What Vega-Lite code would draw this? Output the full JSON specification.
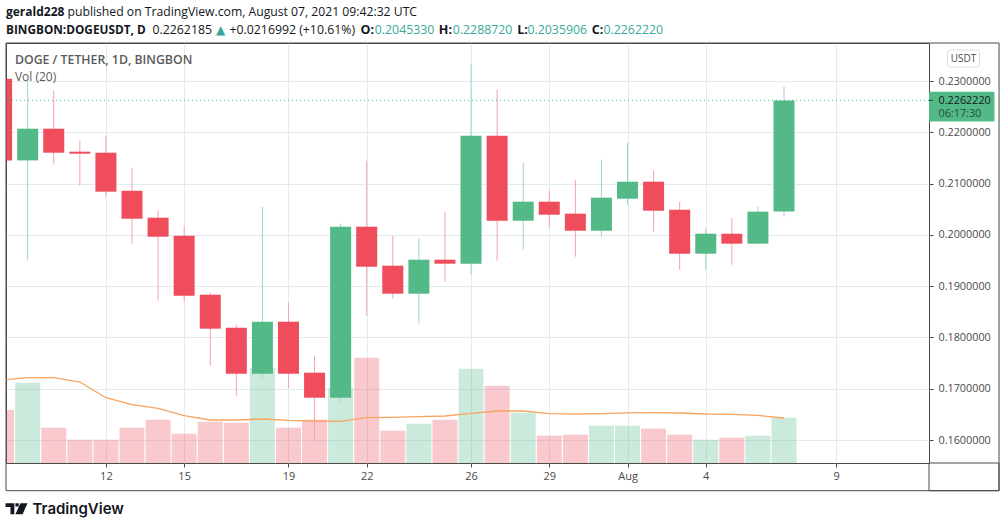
{
"$schema":"https://vega.github.io/schema/vega-lite/v6.json",
"width":923,"height":420,
"autosize":{"type":"none"},
"padding":{"left":6,"top":43,"right":77,"bottom":65},
"background":"white",
"config":{"view":{"stroke":"#4a4a4a","strokeWidth":1},"axis":{"title":null},"scale":{"continuousPadding":0}},
"datasets":{"days":[
{"date":"2021-07-08","open":0.23045,"high":0.23045,"low":0.21452,"close":0.21452,"direction":"down","volume":53,"volumeMa":83},
{"date":"2021-07-09","open":0.21452,"high":0.23025,"low":0.19502,"close":0.2207,"direction":"up","volume":80.3,"volumeMa":85.3},
{"date":"2021-07-10","open":0.2207,"high":0.22811,"low":0.21368,"close":0.21602,"direction":"down","volume":35.3,"volumeMa":85.3},
{"date":"2021-07-11","open":0.21622,"high":0.21836,"low":0.20959,"close":0.21583,"direction":"down","volume":23.3,"volumeMa":81},
{"date":"2021-07-12","open":0.21602,"high":0.21934,"low":0.20744,"close":0.20842,"direction":"down","volume":23.3,"volumeMa":65.3},
{"date":"2021-07-13","open":0.20861,"high":0.2131,"low":0.19828,"close":0.20315,"direction":"down","volume":35.3,"volumeMa":58.3},
{"date":"2021-07-14","open":0.20335,"high":0.20471,"low":0.18717,"close":0.19964,"direction":"down","volume":43.3,"volumeMa":54.6},
{"date":"2021-07-15","open":0.19984,"high":0.20179,"low":0.18697,"close":0.18814,"direction":"down","volume":29.3,"volumeMa":47.3},
{"date":"2021-07-16","open":0.18833,"high":0.18873,"low":0.17449,"close":0.18171,"direction":"down","volume":41.3,"volumeMa":43},
{"date":"2021-07-17","open":0.1819,"high":0.18249,"low":0.16864,"close":0.17293,"direction":"down","volume":40.3,"volumeMa":43},
{"date":"2021-07-18","open":0.17293,"high":0.20549,"low":0.17196,"close":0.18307,"direction":"up","volume":95.3,"volumeMa":44},
{"date":"2021-07-19","open":0.18307,"high":0.18678,"low":0.1702,"close":0.17293,"direction":"down","volume":35.3,"volumeMa":42.6},
{"date":"2021-07-20","open":0.17313,"high":0.17644,"low":0.15967,"close":0.16825,"direction":"down","volume":43.3,"volumeMa":42},
{"date":"2021-07-21","open":0.16825,"high":0.20218,"low":0.16728,"close":0.20159,"direction":"up","volume":75.3,"volumeMa":41.6},
{"date":"2021-07-22","open":0.20159,"high":0.21446,"low":0.18424,"close":0.19379,"direction":"down","volume":105.3,"volumeMa":45.3},
{"date":"2021-07-23","open":0.19399,"high":0.19984,"low":0.18756,"close":0.18853,"direction":"down","volume":32.3,"volumeMa":45.6},
{"date":"2021-07-24","open":0.18853,"high":0.19925,"low":0.18268,"close":0.19516,"direction":"up","volume":39.3,"volumeMa":46.3},
{"date":"2021-07-25","open":0.19516,"high":0.20452,"low":0.19087,"close":0.19438,"direction":"down","volume":43.3,"volumeMa":47},
{"date":"2021-07-26","open":0.19438,"high":0.23324,"low":0.19223,"close":0.21934,"direction":"up","volume":94.3,"volumeMa":49.6},
{"date":"2021-07-27","open":0.21934,"high":0.2283,"low":0.19496,"close":0.20276,"direction":"down","volume":77.3,"volumeMa":52},
{"date":"2021-07-28","open":0.20276,"high":0.21407,"low":0.19711,"close":0.20647,"direction":"up","volume":50.3,"volumeMa":52},
{"date":"2021-07-29","open":0.20647,"high":0.20861,"low":0.2014,"close":0.20393,"direction":"down","volume":27.3,"volumeMa":49.3},
{"date":"2021-07-30","open":0.20413,"high":0.21076,"low":0.19574,"close":0.20081,"direction":"down","volume":28.3,"volumeMa":49},
{"date":"2021-07-31","open":0.20081,"high":0.21466,"low":0.19964,"close":0.20725,"direction":"up","volume":37.3,"volumeMa":49.3},
{"date":"2021-08-01","open":0.20705,"high":0.21797,"low":0.20588,"close":0.21037,"direction":"up","volume":37.3,"volumeMa":50.1},
{"date":"2021-08-02","open":0.21037,"high":0.21251,"low":0.20062,"close":0.20471,"direction":"down","volume":34.3,"volumeMa":50.3},
{"date":"2021-08-03","open":0.20491,"high":0.20647,"low":0.19321,"close":0.19633,"direction":"down","volume":28.3,"volumeMa":50},
{"date":"2021-08-04","open":0.19633,"high":0.2012,"low":0.19321,"close":0.20023,"direction":"up","volume":23.3,"volumeMa":49},
{"date":"2021-08-05","open":0.20023,"high":0.20335,"low":0.19418,"close":0.19828,"direction":"down","volume":25.3,"volumeMa":48.6},
{"date":"2021-08-06","open":0.19828,"high":0.20549,"low":0.19828,"close":0.20452,"direction":"up","volume":27.3,"volumeMa":47.6},
{"date":"2021-08-07","open":0.2045330,"high":0.2288720,"low":0.2035906,"close":0.2262220,"direction":"up","volume":45.3,"volumeMa":45}
]},
"resolve":{"scale":{"y":"independent"}},
"layer":[
{"layer":[
{"data":{"name":"days"},"mark":{"type":"bar","size":25,"opacity":0.3,"clip":true},
"encoding":{"x":{"field":"date","type":"temporal","scale":{"type":"utc","nice":false,"domain":["2021-07-08T04:03:00Z","2021-08-12T13:26:00Z"]}},
"y":{"field":"volume","type":"quantitative","scale":{"domain":[0,420]},"axis":null},
"color":{"field":"direction","type":"nominal","scale":{"domain":["up","down"],"range":["#53b987","#ef4d5c"]},"legend":null}}},
{"data":{"name":"days"},"mark":{"type":"line","color":"#f9a45e","strokeWidth":1.3,"clip":true},
"encoding":{"x":{"field":"date","type":"temporal","scale":{"type":"utc","nice":false,"domain":["2021-07-08T04:03:00Z","2021-08-12T13:26:00Z"]}},
"y":{"field":"volumeMa","type":"quantitative","scale":{"domain":[0,420]},"axis":null}}}
]},
{"layer":[
{"data":{"name":"days"},"transform":[{"filter":"datum.direction == 'up'"}],"mark":{"type":"rule","color":"#9fd1cf","strokeWidth":1,"clip":true},
"encoding":{"x":{"field":"date","type":"temporal","scale":{"type":"utc","nice":false,"domain":["2021-07-08T04:03:00Z","2021-08-12T13:26:00Z"]},
"axis":{"title":null,"values":["2021-07-12","2021-07-15","2021-07-19","2021-07-22","2021-07-26","2021-07-29","2021-08-01","2021-08-04","2021-08-09"],"labelExpr":"utcdate(datum.value) == 1 ? 'Aug' : utcFormat(datum.value, '%-d')","grid":true,"gridColor":"#e1ecf2","gridWidth":1,"domain":false,"tickColor":"#4a4a4a","tickSize":4,"labelColor":"#4a4a4a","labelFont":"Open Sans","labelFontSize":11,"labelPadding":3,"labelFlush":false,"labelOverlap":false}},
"y":{"field":"low","type":"quantitative","scale":{"domain":[0.15552,0.23741]},
"axis":{"title":null,"orient":"right","values":[0.16,0.17,0.18,0.19,0.2,0.21,0.22,0.23],"format":".7f","grid":true,"gridColor":"#e1ecf2","gridWidth":1,"domain":false,"tickColor":"#4a4a4a","tickSize":4,"labelColor":"#4a4a4a","labelFont":"Open Sans","labelFontSize":10.8,"labelPadding":5}},
"y2":{"field":"high"}}},
{"data":{"name":"days"},"transform":[{"filter":"datum.direction == 'down'"}],"mark":{"type":"rule","color":"#f7a1ac","strokeWidth":1,"clip":true},
"encoding":{"x":{"field":"date","type":"temporal","scale":{"type":"utc","nice":false,"domain":["2021-07-08T04:03:00Z","2021-08-12T13:26:00Z"]}},
"y":{"field":"low","type":"quantitative","scale":{"domain":[0.15552,0.23741]},"axis":{"orient":"right"}},"y2":{"field":"high"}}},
{"data":{"name":"days"},"mark":{"type":"bar","size":21,"clip":true},
"encoding":{"x":{"field":"date","type":"temporal","scale":{"type":"utc","nice":false,"domain":["2021-07-08T04:03:00Z","2021-08-12T13:26:00Z"]}},
"y":{"field":"open","type":"quantitative","scale":{"domain":[0.15552,0.23741]},"axis":{"orient":"right"}},"y2":{"field":"close"},
"color":{"field":"direction","type":"nominal","scale":{"domain":["up","down"],"range":["#53b987","#ef4d5c"]},"legend":null}}},
{"data":{"values":[{"last":0.226222}]},"mark":{"type":"rule","color":"#3fb58a","strokeWidth":1,"strokeDash":[1,3]},
"encoding":{"y":{"field":"last","type":"quantitative","scale":{"domain":[0.15552,0.23741]},"axis":{"orient":"right"}}}},
{"data":{"values":[{"part":"outer frame"}]},"mark":{"type":"rect","fillOpacity":0,"stroke":"#4a4a4a","strokeWidth":1},
"encoding":{"x":{"datum":{"year":2021,"month":7,"date":8,"hours":4,"minutes":3,"utc":true},"type":"temporal","scale":{"type":"utc","nice":false,"domain":["2021-07-08T04:03:00Z","2021-08-12T13:26:00Z"]}},"x2":{"datum":{"year":2021,"month":8,"date":15,"hours":5,"minutes":53,"utc":true}},
"y":{"datum":0.23741,"type":"quantitative","scale":{"domain":[0.15552,0.23741]},"axis":{"orient":"right"}},"y2":{"datum":0.15012}}},
{"data":{"values":[{"part":"corner"}]},"mark":{"type":"rect","fillOpacity":0,"stroke":"#4a4a4a","strokeWidth":1},
"encoding":{"x":{"datum":{"year":2021,"month":8,"date":12,"hours":13,"minutes":26,"utc":true},"type":"temporal","scale":{"type":"utc","nice":false,"domain":["2021-07-08T04:03:00Z","2021-08-12T13:26:00Z"]}},"x2":{"datum":{"year":2021,"month":8,"date":15,"hours":5,"minutes":53,"utc":true}},
"y":{"datum":0.15552,"type":"quantitative","scale":{"domain":[0.15552,0.23741]},"axis":{"orient":"right"}},"y2":{"datum":0.15012}}},
{"data":{"values":[{"part":"price tag"}]},"mark":{"type":"rect","color":"#53b987","cornerRadius":1},
"encoding":{"x":{"datum":{"year":2021,"month":8,"date":12,"hours":13,"minutes":26,"utc":true},"type":"temporal","scale":{"type":"utc","nice":false,"domain":["2021-07-08T04:03:00Z","2021-08-12T13:26:00Z"]}},"x2":{"datum":{"year":2021,"month":8,"date":15,"hours":1,"minutes":41,"utc":true}},
"y":{"datum":0.22791,"type":"quantitative","scale":{"domain":[0.15552,0.23741]},"axis":{"orient":"right"}},"y2":{"datum":0.22212}}},
{"data":{"values":[{"part":"price tag tick"}]},"mark":{"type":"rule","color":"#1f4f3a","strokeWidth":1},
"encoding":{"x":{"datum":{"year":2021,"month":8,"date":12,"hours":13,"minutes":26,"utc":true},"type":"temporal","scale":{"type":"utc","nice":false,"domain":["2021-07-08T04:03:00Z","2021-08-12T13:26:00Z"]}},"x2":{"datum":{"year":2021,"month":8,"date":12,"hours":16,"minutes":57,"utc":true}},
"y":{"datum":0.226222,"type":"quantitative","scale":{"domain":[0.15552,0.23741]},"axis":{"orient":"right"}}}},
{"data":{"values":[{"part":"usdt button"}]},"mark":{"type":"rect","fill":"white","stroke":"#dcdcdc","strokeWidth":1,"cornerRadius":3},
"encoding":{"x":{"datum":{"year":2021,"month":8,"date":13,"hours":6,"minutes":29,"utc":true},"type":"temporal","scale":{"type":"utc","nice":false,"domain":["2021-07-08T04:03:00Z","2021-08-12T13:26:00Z"]}},"x2":{"datum":{"year":2021,"month":8,"date":14,"hours":11,"minutes":56,"utc":true}},
"y":{"datum":0.23604,"type":"quantitative","scale":{"domain":[0.15552,0.23741]},"axis":{"orient":"right"}},"y2":{"datum":0.23272}}},
{"data":{"values":[{"label":"USDT"}]},"mark":{"type":"text","align":"center","font":"Open Sans","fontSize":10,"color":"#4a4a4a"},
"encoding":{"x":{"datum":{"year":2021,"month":8,"date":13,"hours":21,"minutes":12,"utc":true},"type":"temporal","scale":{"type":"utc","nice":false,"domain":["2021-07-08T04:03:00Z","2021-08-12T13:26:00Z"]}},"y":{"datum":0.23435,"type":"quantitative","scale":{"domain":[0.15552,0.23741]},"axis":{"orient":"right"}},"text":{"field":"label"}}},
{"data":{"values":[{"label":"0.2262220"}]},"mark":{"type":"text","align":"left","font":"Open Sans","fontSize":10.8,"color":"#131722"},
"encoding":{"x":{"datum":{"year":2021,"month":8,"date":12,"hours":22,"minutes":12,"utc":true},"type":"temporal","scale":{"type":"utc","nice":false,"domain":["2021-07-08T04:03:00Z","2021-08-12T13:26:00Z"]}},"y":{"datum":0.22616,"type":"quantitative","scale":{"domain":[0.15552,0.23741]},"axis":{"orient":"right"}},"text":{"field":"label"}}},
{"data":{"values":[{"label":"06:17:30"}]},"mark":{"type":"text","align":"left","font":"Open Sans","fontSize":10.8,"color":"#1f4f3a"},
"encoding":{"x":{"datum":{"year":2021,"month":8,"date":12,"hours":22,"minutes":12,"utc":true},"type":"temporal","scale":{"type":"utc","nice":false,"domain":["2021-07-08T04:03:00Z","2021-08-12T13:26:00Z"]}},"y":{"datum":0.22362,"type":"quantitative","scale":{"domain":[0.15552,0.23741]},"axis":{"orient":"right"}},"text":{"field":"label"}}},
{"data":{"values":[{"label":"DOGE / TETHER, 1D, BINGBON"}]},"mark":{"type":"text","align":"left","font":"Open Sans","fontSize":12.3,"fontWeight":600,"color":"#5a5a5a"},
"encoding":{"x":{"datum":{"year":2021,"month":7,"date":8,"hours":12,"minutes":17,"utc":true},"type":"temporal","scale":{"type":"utc","nice":false,"domain":["2021-07-08T04:03:00Z","2021-08-12T13:26:00Z"]}},"y":{"datum":0.23415,"type":"quantitative","scale":{"domain":[0.15552,0.23741]},"axis":{"orient":"right"}},"text":{"field":"label"}}},
{"data":{"values":[{"label":"Vol (20)"}]},"mark":{"type":"text","align":"left","font":"Open Sans","fontSize":12,"color":"#5a5a5a"},
"encoding":{"x":{"datum":{"year":2021,"month":7,"date":8,"hours":12,"minutes":17,"utc":true},"type":"temporal","scale":{"type":"utc","nice":false,"domain":["2021-07-08T04:03:00Z","2021-08-12T13:26:00Z"]}},"y":{"datum":0.23084,"type":"quantitative","scale":{"domain":[0.15552,0.23741]},"axis":{"orient":"right"}},"text":{"field":"label"}}},
{"data":{"values":[{"label":"gerald228"}]},"mark":{"type":"text","align":"left","font":"Open Sans","fontSize":12,"fontWeight":"bold","color":"#131722"},
"encoding":{"x":{"datum":{"year":2021,"month":7,"date":8,"hours":4,"minutes":3,"utc":true},"type":"temporal","scale":{"type":"utc","nice":false,"domain":["2021-07-08T04:03:00Z","2021-08-12T13:26:00Z"]}},"y":{"datum":0.24351,"type":"quantitative","scale":{"domain":[0.15552,0.23741]},"axis":{"orient":"right"}},"text":{"field":"label"}}},
{"data":{"values":[{"label":"published on TradingView.com, August 07, 2021 09:42:32 UTC"}]},"mark":{"type":"text","align":"left","font":"Open Sans","fontSize":12.2,"color":"#131722"},
"encoding":{"x":{"datum":{"year":2021,"month":7,"date":10,"hours":12,"minutes":40,"utc":true},"type":"temporal","scale":{"type":"utc","nice":false,"domain":["2021-07-08T04:03:00Z","2021-08-12T13:26:00Z"]}},"y":{"datum":0.24351,"type":"quantitative","scale":{"domain":[0.15552,0.23741]},"axis":{"orient":"right"}},"text":{"field":"label"}}},
{"data":{"values":[{"label":"BINGBON:DOGEUSDT, D"}]},"mark":{"type":"text","align":"left","font":"Open Sans","fontSize":11.8,"fontWeight":"bold","color":"#131722"},
"encoding":{"x":{"datum":{"year":2021,"month":7,"date":8,"hours":4,"minutes":3,"utc":true},"type":"temporal","scale":{"type":"utc","nice":false,"domain":["2021-07-08T04:03:00Z","2021-08-12T13:26:00Z"]}},"y":{"datum":0.24,"type":"quantitative","scale":{"domain":[0.15552,0.23741]},"axis":{"orient":"right"}},"text":{"field":"label"}}},
{"data":{"values":[{"label":"0.2262185"}]},"mark":{"type":"text","align":"left","font":"Open Sans","fontSize":12.3,"color":"#131722"},
"encoding":{"x":{"datum":{"year":2021,"month":7,"date":13,"hours":18,"minutes":53,"utc":true},"type":"temporal","scale":{"type":"utc","nice":false,"domain":["2021-07-08T04:03:00Z","2021-08-12T13:26:00Z"]}},"y":{"datum":0.24,"type":"quantitative","scale":{"domain":[0.15552,0.23741]},"axis":{"orient":"right"}},"text":{"field":"label"}}},
{"data":{"values":[{"label":"▲"}]},"mark":{"type":"text","align":"center","font":"DejaVu Sans","fontSize":12,"color":"#37a99a"},
"encoding":{"x":{"datum":{"year":2021,"month":7,"date":16,"hours":9,"minutes":27,"utc":true},"type":"temporal","scale":{"type":"utc","nice":false,"domain":["2021-07-08T04:03:00Z","2021-08-12T13:26:00Z"]}},"y":{"datum":0.24,"type":"quantitative","scale":{"domain":[0.15552,0.23741]},"axis":{"orient":"right"}},"text":{"field":"label"}}},
{"data":{"values":[{"label":"+0.0216992 (+10.61%)"}]},"mark":{"type":"text","align":"left","font":"Open Sans","fontSize":12.3,"color":"#131722"},
"encoding":{"x":{"datum":{"year":2021,"month":7,"date":16,"hours":17,"minutes":44,"utc":true},"type":"temporal","scale":{"type":"utc","nice":false,"domain":["2021-07-08T04:03:00Z","2021-08-12T13:26:00Z"]}},"y":{"datum":0.24,"type":"quantitative","scale":{"domain":[0.15552,0.23741]},"axis":{"orient":"right"}},"text":{"field":"label"}}},
{"data":{"values":[{"label":"O:"}]},"mark":{"type":"text","align":"left","font":"Open Sans","fontSize":12.5,"fontWeight":"bold","color":"#131722"},
"encoding":{"x":{"datum":{"year":2021,"month":7,"date":21,"hours":18,"minutes":17,"utc":true},"type":"temporal","scale":{"type":"utc","nice":false,"domain":["2021-07-08T04:03:00Z","2021-08-12T13:26:00Z"]}},"y":{"datum":0.24,"type":"quantitative","scale":{"domain":[0.15552,0.23741]},"axis":{"orient":"right"}},"text":{"field":"label"}}},
{"data":{"values":[{"label":"0.2045330"}]},"mark":{"type":"text","align":"left","font":"Open Sans","fontSize":12.3,"color":"#37a99a"},
"encoding":{"x":{"datum":{"year":2021,"month":7,"date":22,"hours":7,"minutes":27,"utc":true},"type":"temporal","scale":{"type":"utc","nice":false,"domain":["2021-07-08T04:03:00Z","2021-08-12T13:26:00Z"]}},"y":{"datum":0.24,"type":"quantitative","scale":{"domain":[0.15552,0.23741]},"axis":{"orient":"right"}},"text":{"field":"label"}}},
{"data":{"values":[{"label":"H:"}]},"mark":{"type":"text","align":"left","font":"Open Sans","fontSize":12.5,"fontWeight":"bold","color":"#131722"},
"encoding":{"x":{"datum":{"year":2021,"month":7,"date":24,"hours":18,"minutes":21,"utc":true},"type":"temporal","scale":{"type":"utc","nice":false,"domain":["2021-07-08T04:03:00Z","2021-08-12T13:26:00Z"]}},"y":{"datum":0.24,"type":"quantitative","scale":{"domain":[0.15552,0.23741]},"axis":{"orient":"right"}},"text":{"field":"label"}}},
{"data":{"values":[{"label":"0.2288720"}]},"mark":{"type":"text","align":"left","font":"Open Sans","fontSize":12.3,"color":"#37a99a"},
"encoding":{"x":{"datum":{"year":2021,"month":7,"date":25,"hours":7,"minutes":14,"utc":true},"type":"temporal","scale":{"type":"utc","nice":false,"domain":["2021-07-08T04:03:00Z","2021-08-12T13:26:00Z"]}},"y":{"datum":0.24,"type":"quantitative","scale":{"domain":[0.15552,0.23741]},"axis":{"orient":"right"}},"text":{"field":"label"}}},
{"data":{"values":[{"label":"L:"}]},"mark":{"type":"text","align":"left","font":"Open Sans","fontSize":12.5,"fontWeight":"bold","color":"#131722"},
"encoding":{"x":{"datum":{"year":2021,"month":7,"date":27,"hours":18,"minutes":30,"utc":true},"type":"temporal","scale":{"type":"utc","nice":false,"domain":["2021-07-08T04:03:00Z","2021-08-12T13:26:00Z"]}},"y":{"datum":0.24,"type":"quantitative","scale":{"domain":[0.15552,0.23741]},"axis":{"orient":"right"}},"text":{"field":"label"}}},
{"data":{"values":[{"label":"0.2035906"}]},"mark":{"type":"text","align":"left","font":"Open Sans","fontSize":12.3,"color":"#37a99a"},
"encoding":{"x":{"datum":{"year":2021,"month":7,"date":28,"hours":3,"minutes":59,"utc":true},"type":"temporal","scale":{"type":"utc","nice":false,"domain":["2021-07-08T04:03:00Z","2021-08-12T13:26:00Z"]}},"y":{"datum":0.24,"type":"quantitative","scale":{"domain":[0.15552,0.23741]},"axis":{"orient":"right"}},"text":{"field":"label"}}},
{"data":{"values":[{"label":"C:"}]},"mark":{"type":"text","align":"left","font":"Open Sans","fontSize":12.5,"fontWeight":"bold","color":"#131722"},
"encoding":{"x":{"datum":{"year":2021,"month":7,"date":30,"hours":15,"minutes":9,"utc":true},"type":"temporal","scale":{"type":"utc","nice":false,"domain":["2021-07-08T04:03:00Z","2021-08-12T13:26:00Z"]}},"y":{"datum":0.24,"type":"quantitative","scale":{"domain":[0.15552,0.23741]},"axis":{"orient":"right"}},"text":{"field":"label"}}},
{"data":{"values":[{"label":"0.2262220"}]},"mark":{"type":"text","align":"left","font":"Open Sans","fontSize":12.3,"color":"#37a99a"},
"encoding":{"x":{"datum":{"year":2021,"month":7,"date":31,"hours":1,"minutes":55,"utc":true},"type":"temporal","scale":{"type":"utc","nice":false,"domain":["2021-07-08T04:03:00Z","2021-08-12T13:26:00Z"]}},"y":{"datum":0.24,"type":"quantitative","scale":{"domain":[0.15552,0.23741]},"axis":{"orient":"right"}},"text":{"field":"label"}}},
{"data":{"values":[{"label":"TradingView"}]},"mark":{"type":"text","align":"left","font":"Inter","fontSize":15,"fontWeight":600,"color":"#131722"},
"encoding":{"x":{"datum":{"year":2021,"month":7,"date":9,"hours":4,"minutes":28,"utc":true},"type":"temporal","scale":{"type":"utc","nice":false,"domain":["2021-07-08T04:03:00Z","2021-08-12T13:26:00Z"]}},"y":{"datum":0.14661,"type":"quantitative","scale":{"domain":[0.15552,0.23741]},"axis":{"orient":"right"}},"text":{"field":"label"}}},
{"data":{"values":[{"part":"logo"}]},"mark":{"type":"point","filled":true,"opacity":1,"color":"#131722","size":484,"shape":"M-1,-.5 H-.2 V.5 H-.55 V-.15 H-1 Z M-.1,-.5 H.2 V-.2 H-.1 Z M.35,-.5 H1 L.55,.5 H-.1 Z"},
"encoding":{"x":{"datum":{"year":2021,"month":7,"date":8,"hours":13,"minutes":44,"utc":true},"type":"temporal","scale":{"type":"utc","nice":false,"domain":["2021-07-08T04:03:00Z","2021-08-12T13:26:00Z"]}},"y":{"datum":0.14661,"type":"quantitative","scale":{"domain":[0.15552,0.23741]},"axis":{"orient":"right"}}}}
]}
]}
